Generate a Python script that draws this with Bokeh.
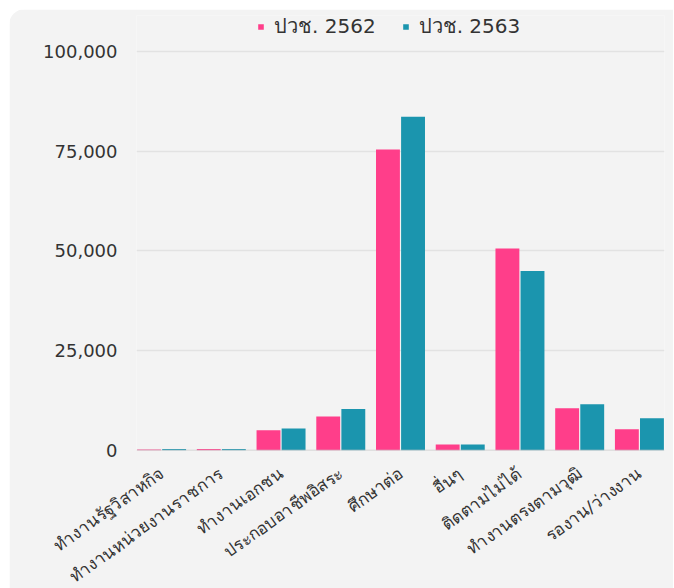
from bokeh.plotting import figure
from bokeh.models import (ColumnDataSource, Range1d, FixedTicker, NumeralTickFormatter,
                          Legend, LegendItem, Span)
from bokeh.transform import dodge
from bokeh.embed import file_html
from bokeh.resources import INLINE

categories = ["ทำงานรัฐวิสาหกิจ", "ทำงานหน่วยงานราชการ", "ทำงานเอกชน",
              "ประกอบอาชีพอิสระ", "ศึกษาต่อ", "อื่นๆ", "ติดตามไม่ได้",
              "ทำงานตรงตามวุฒิ", "รองาน/ว่างงาน"]
series_names = ["ปวช. 2562", "ปวช. 2563"]
values_2562 = [250, 400, 5100, 8500, 75400, 1500, 50600, 10600, 5300]
values_2563 = [350, 350, 5500, 10400, 83600, 1500, 45000, 11600, 8100]
y_ticks = [0, 25000, 50000, 75000, 100000]

PINK = "#FF3E8A"
TEAL = "#1B95AE"
FONT = "DejaVu Sans"
TXT = "#333333"

idx = list(range(len(categories)))
src = ColumnDataSource(dict(x=idx, a=values_2562, b=values_2563))

p = figure(width=664, height=588, output_backend="svg", toolbar_location=None,
           x_range=Range1d(-0.42, len(categories) - 1 + 0.42),
           y_range=Range1d(0, 109000),
           min_border_left=127, min_border_right=9, min_border_top=6, min_border_bottom=140)
p.styles = {"border-radius": "16px 0 0 0", "overflow": "hidden",
            "margin-left": "9px", "margin-top": "9px"}
p.border_fill_color = "#F3F3F3"
p.background_fill_color = "#F3F3F3"
p.outline_line_color = None

r1 = p.vbar(x=dodge("x", -0.21, range=p.x_range), top="a", width=0.40, source=src,
            fill_color=PINK, line_color=None)
r2 = p.vbar(x=dodge("x", 0.21, range=p.x_range), top="b", width=0.40, source=src,
            fill_color=TEAL, line_color=None)

p.add_layout(Span(location=0, dimension="width", line_color="#C8C8C8", line_width=1.5))

# axes
p.xaxis.ticker = FixedTicker(ticks=idx)
p.xaxis.major_label_overrides = {i: c for i, c in enumerate(categories)}
p.xaxis.major_label_orientation = 0.62
p.xaxis.axis_line_color = None
p.xaxis.major_tick_line_color = None
p.xaxis.minor_tick_line_color = None
p.xaxis.major_label_text_font = FONT
p.xaxis.major_label_text_font_size = "17px"
p.xaxis.major_label_text_color = TXT
p.xaxis.major_label_standoff = 15

p.yaxis.ticker = FixedTicker(ticks=y_ticks)
p.yaxis.formatter = NumeralTickFormatter(format="0,0")
p.yaxis.axis_line_color = None
p.yaxis.major_tick_line_color = None
p.yaxis.minor_tick_line_color = None
p.yaxis.major_tick_out = 0
p.yaxis.major_label_text_font = FONT
p.yaxis.major_label_text_font_size = "18px"
p.yaxis.major_label_text_color = TXT
p.yaxis.major_label_standoff = 19

p.xgrid.grid_line_color = None
p.ygrid.grid_line_color = "#E2E2E2"
p.ygrid.grid_line_width = 1.5

legend = Legend(items=[LegendItem(label=series_names[0], renderers=[r1]),
                       LegendItem(label=series_names[1], renderers=[r2])],
                orientation="horizontal", location=(121, 408),
                background_fill_alpha=0, border_line_color=None,
                label_text_font=FONT, label_text_font_size="20px", label_text_color=TXT,
                glyph_width=7, glyph_height=7, label_standoff=10, spacing=26,
                padding=0, margin=0, label_height=22)
p.add_layout(legend, "center")

open("out.html", "w").write(file_html(p, INLINE))
